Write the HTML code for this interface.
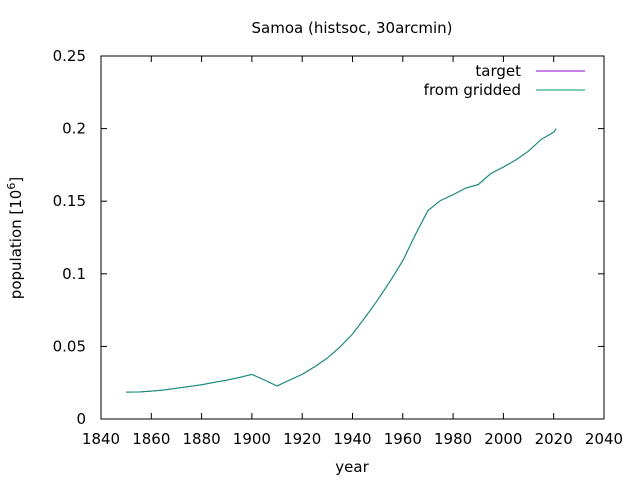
<!DOCTYPE html>
<html><head><meta charset="utf-8"><style>
body{margin:0;background:#fff;}
svg{display:block;font-family:"DejaVu Sans","Liberation Sans",sans-serif;}
</style></head><body>
<svg id="chart" width="640" height="480" viewBox="0 0 640 480" xmlns="http://www.w3.org/2000/svg">
<rect width="640" height="480" fill="#fff"/>
<text x="352" y="33" font-size="15" text-anchor="middle" fill="#000">Samoa (histsoc, 30arcmin)</text>
<text x="352" y="472" font-size="15" text-anchor="middle" fill="#000">year</text>
<text transform="translate(21,238) rotate(-90)" font-size="15" text-anchor="middle" fill="#000">population [10<tspan dy="-6" font-size="11">6</tspan><tspan dy="6">]</tspan></text>
<g id="axes"></g>
<g id="series"></g>
<g>
<text x="521" y="76" font-size="15" text-anchor="end">target</text>
<line x1="536" y1="71" x2="585" y2="71" stroke="#9400d3" stroke-width="1"/>
<text x="521" y="95" font-size="15" text-anchor="end">from gridded</text>
<line x1="536" y1="90" x2="585" y2="90" stroke="#009e73" stroke-width="1"/>
</g>
</svg>
<script>
const years=[1850,1855,1860,1865,1870,1875,1880,1885,1890,1895,1900,1905,1910,1915,1920,1925,1930,1935,1940,1945,1950,1955,1960,1965,1970,1975,1980,1985,1990,1995,2000,2005,2010,2015,2020,2021];
const targetValues=[0.0185,0.0186,0.0192,0.0200,0.0212,0.0224,0.0236,0.0252,0.0268,0.0286,0.0307,0.0268,0.0227,0.0268,0.0308,0.0360,0.0420,0.0495,0.0585,0.0700,0.0820,0.0950,0.1090,0.1270,0.1435,0.1505,0.1545,0.1590,0.1615,0.1690,0.1735,0.1785,0.1845,0.1925,0.1975,0.2000];
const griddedValues=[0.0185,0.0186,0.0192,0.0200,0.0212,0.0224,0.0236,0.0252,0.0268,0.0286,0.0307,0.0268,0.0227,0.0268,0.0308,0.0360,0.0420,0.0495,0.0585,0.0700,0.0820,0.0950,0.1090,0.1270,0.1435,0.1505,0.1545,0.1590,0.1615,0.1690,0.1735,0.1785,0.1845,0.1925,0.1975,0.2000];
const xTicks=[1840,1860,1880,1900,1920,1940,1960,1980,2000,2020,2040];
const yTicks=[0,0.05,0.1,0.15,0.2,0.25];
const yTickLabels=["0","0.05","0.1","0.15","0.2","0.25"];
const L=101,R=604,T=56,B=419;
const sx=v=>L+(v-1840)/(2040-1840)*(R-L);
const sy=v=>B-v/0.25*(B-T);
const NS="http://www.w3.org/2000/svg";
const axes=document.getElementById('axes');
function mk(tag,attrs,parent){const e=document.createElementNS(NS,tag);for(const k in attrs)e.setAttribute(k,attrs[k]);parent.appendChild(e);return e;}
const frame=mk('rect',{x:L,y:T,width:R-L,height:B-T,fill:'none',stroke:'#000','stroke-width':1},axes);


xTicks.forEach(t=>{
  const x=sx(t);
  const l1=mk('line',{x1:x,y1:B,x2:x,y2:B-6,stroke:'#000'},axes);
  
  
  const l2=mk('line',{x1:x,y1:T,x2:x,y2:T+6,stroke:'#000'},axes);
  
  
  const tx=mk('text',{x:x,y:B+25,'font-size':15,'text-anchor':'middle'},axes);
  tx.textContent=t;
  
  
});
yTicks.forEach((t,i)=>{
  const y=sy(t);
  const l1=mk('line',{x1:L,y1:y,x2:L+6,y2:y,stroke:'#000'},axes);
  
  
  const l2=mk('line',{x1:R,y1:y,x2:R-6,y2:y,stroke:'#000'},axes);
  
  
  const tx=mk('text',{x:L-15,y:y+5,'font-size':15,'text-anchor':'end'},axes);
  tx.textContent=yTickLabels[i];
  
  
});
const series=document.getElementById('series');
function line(vals,color,name){
  const d=vals.map((v,i)=>(i?'L':'M')+sx(years[i]).toFixed(1)+','+sy(v).toFixed(1)).join(' ');
  const p=mk('path',{d:d,fill:'none',stroke:color,'stroke-width':1},series);
  
  
}
line(targetValues,'#9400d3','target-line');
line(griddedValues,'#009e73','from-gridded-line');
</script>
</body></html>
